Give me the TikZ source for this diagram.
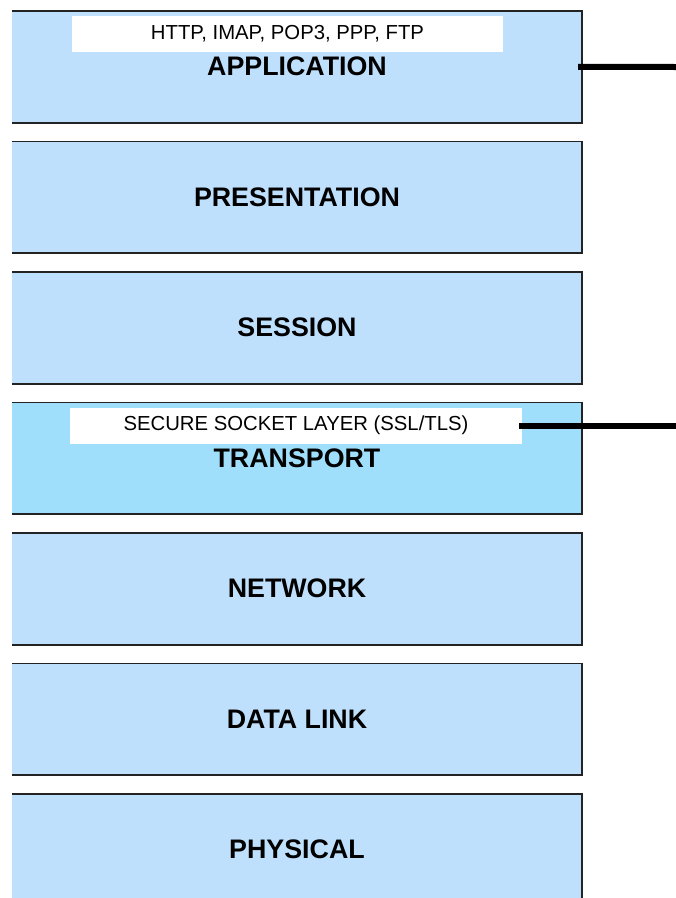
\documentclass[tikz,border=0pt]{standalone}
\usepackage{fontspec}
\setmainfont{Liberation Sans}
\usepackage{tikz}
\usetikzlibrary{positioning}
\definecolor{layerblue}{RGB}{190,224,252}
\definecolor{transblue}{RGB}{159,223,252}
\definecolor{edgegray}{RGB}{35,35,35}
\tikzstyle{layer} = [rectangle, fill=layerblue, inner sep=0pt,
                     minimum width=570pt, minimum height=111.5pt,
                     font=\fontsize{26.8}{30}\selectfont\bfseries]
\tikzstyle{proto} = [rectangle, fill=white, inner sep=0pt,
                     minimum height=36pt,
                     font=\fontsize{20.3}{22}\selectfont]
\tikzstyle{edge} = [draw=edgegray, line width=1.6pt]
\tikzstyle{link} = [line width=6pt, black]

\begin{document}
\begin{tikzpicture}[x=1pt,y=-1pt]
\useasboundingbox (0,0) rectangle (676,898);

%Layers
\node[layer] at (297,66.75) (app){APPLICATION};
\node[layer] at (297,197.25) (pres){PRESENTATION};
\node[layer] at (297,327.75) (sess){SESSION};
\node[layer,fill=transblue] at (297,458.25) (trans){TRANSPORT};
\node[layer] at (297,588.75) (net){NETWORK};
\node[layer] at (297,719.25) (data){DATA LINK};
\node[layer] at (297,849.75) (phys){PHYSICAL};

%Borders (left side cut off)
\foreach \n in {app,pres,sess,trans,net,data,phys}
  \draw[edge] (\n.north west) -- (\n.north east) -- (\n.south east) -- (\n.south west);

%Protocols
\node[proto,minimum width=431pt] at (287.5,34) (http){HTTP, IMAP, POP3, PPP, FTP};
\node[proto,minimum width=452pt] at (296,425.5) (ssl){SECURE SOCKET LAYER (SSL/TLS)};

%Links
\coordinate (appEnd) at (676,67);
\coordinate (sslEnd) at (676,425.5);
\draw[link] ([xshift=-4pt]app.east) -- (appEnd);
\draw[link] ([xshift=-3pt]ssl.east) -- (sslEnd);
\end{tikzpicture}
\end{document}
